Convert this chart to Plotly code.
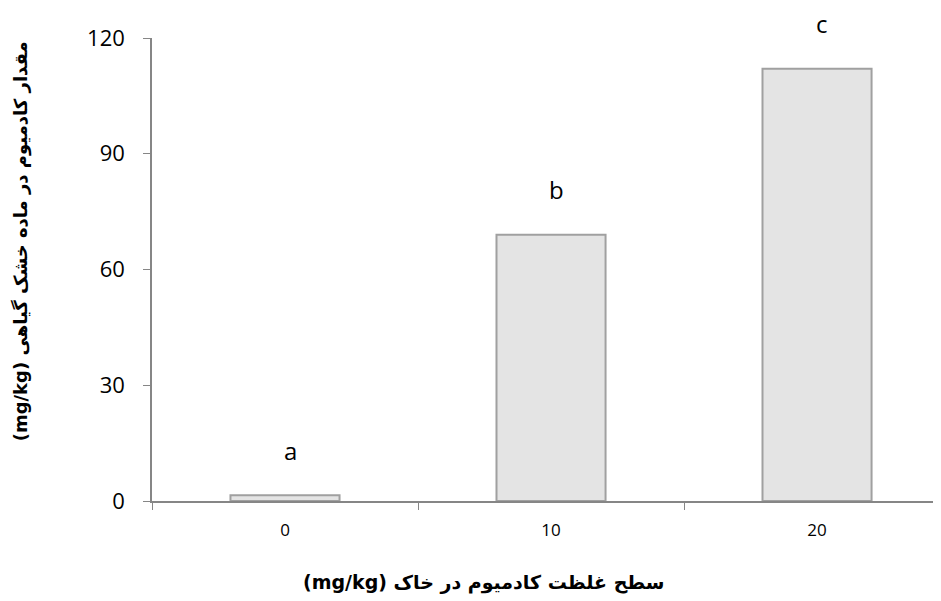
import plotly.graph_objects as go

categories = ["0", "10", "20"]
values = [1.5, 69, 112]
letters = ["a", "b", "c"]
y_ticks = [0, 30, 60, 90, 120]

x_title = "سطح غلظت کادمیوم در خاک (mg/kg)"
y_title = "مقدار کادمیوم در ماده خشک گیاهی (mg/kg)"

RLE, PDF = "\u202B", "\u202C"

fig = go.Figure()
fig.add_trace(go.Bar(
    x=categories, y=values, width=0.41,
    marker=dict(color="#e4e4e4", line=dict(color="#a0a0a0", width=2)),
    hoverinfo="skip", showlegend=False,
))

for i, (v, t) in enumerate(zip(values, letters)):
    fig.add_annotation(x=i, y=v, text=t, showarrow=False, yshift=45, xshift=5,
                       font=dict(family="Open Sans", size=24, color="#000"))

fig.add_annotation(xref="paper", yref="paper", x=0.421, y=-0.177,
                   text="<b>" + RLE + x_title + PDF + "</b>",
                   showarrow=False, font=dict(family="DejaVu Sans", size=19, color="#000"),
                   xanchor="center", yanchor="middle")
fig.add_annotation(xref="paper", yref="paper", x=-0.1665, y=0.56,
                   text="<b>" + RLE + y_title + PDF + "</b>",
                   textangle=-90, showarrow=False, borderpad=0,
                   font=dict(family="DejaVu Sans", size=18, color="#000"),
                   xanchor="center", yanchor="middle")

fig.update_layout(
    width=941, height=601,
    margin=dict(l=144, r=8, t=30, b=108),
    plot_bgcolor="white", paper_bgcolor="white",
    xaxis=dict(type="category", range=[-0.5, 2.466], tickson="boundaries",
               ticks="outside", ticklen=7, tickcolor="#868686",
               showline=True, linecolor="#868686", linewidth=1.5,
               showgrid=False, zeroline=False,
               tickfont=dict(family="Open Sans", size=17, color="#000"),
               ticklabelstandoff=13),
    yaxis=dict(range=[0, 120], tickvals=y_ticks, ticks="outside", ticklen=7,
               tickcolor="#868686", showline=True, linecolor="#868686", linewidth=1.5,
               showgrid=False, zeroline=False,
               tickfont=dict(family="Open Sans", size=22, color="#000"),
               ticklabelstandoff=14),
    font=dict(family="Open Sans"),
)

fig.write_html("out.html")
